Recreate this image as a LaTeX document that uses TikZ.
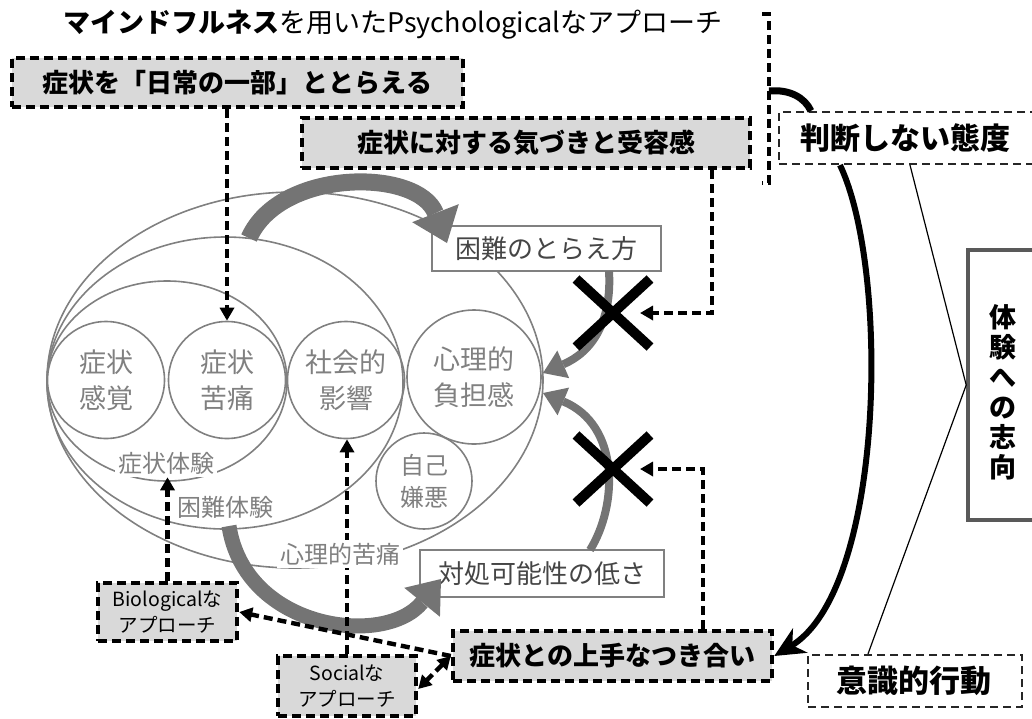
\documentclass[tikz,border=0pt]{standalone}
\usepackage{fontspec}
\setmainfont{Noto Sans CJK JP}
\usetikzlibrary{arrows.meta,shapes.misc,shapes.geometric}
\definecolor{boxgray}{HTML}{D9D9D9}
\definecolor{lgray}{HTML}{808080}
\definecolor{agray}{HTML}{747474}
\definecolor{tgray}{HTML}{454545}
\definecolor{mgray}{HTML}{595959}
\begin{document}
\begin{tikzpicture}[x=1pt,y=-1pt,
  gbox/.style={draw=black, fill=boxgray, line width=4.4pt, dash pattern=on 9pt off 5pt, inner sep=0pt, font=\fontsize{26}{30}\selectfont\bfseries},
  sbox/.style={gbox, font=\fontsize{19.5}{26}\selectfont, align=center},
  tbox/.style={draw=black!85, line width=2.2pt, dash pattern=on 8pt off 5pt, fill=white, inner sep=0pt},
  wbox/.style={draw=lgray, line width=1.8pt, fill=white, text=tgray, inner sep=0pt, font=\fontsize{26}{30}\selectfont},
  circ/.style={circle, draw=lgray, line width=1.6pt, text=lgray, align=center, inner sep=0pt, font=\fontsize{27}{36}\selectfont},
  lbl/.style={fill=white, text=lgray, inner sep=3pt, font=\fontsize{24}{28}\selectfont},
  ell/.style={ellipse, draw=lgray, line width=1.6pt, inner sep=0pt},
  darr/.style={line width=4.4pt, dash pattern=on 9pt off 5pt, -{Triangle[length=13pt,width=14pt]}},
  fat/.style={draw=agray, line cap=butt},
  xmark/.style={cross out, draw=black, line width=10pt, inner sep=0pt, minimum width=64pt, minimum height=58pt},
  btxt/.style={font=\fontsize{30}{34}\selectfont\bfseries},
]
\useasboundingbox (0,0) rectangle (1032,718);

% ellipses
\node[ell, minimum width=496pt, minimum height=376pt] (e3) at (295,380) {};
\node[ell, minimum width=356pt, minimum height=292pt] (e2) at (225,383) {};
\node[ell, minimum width=240pt, minimum height=200pt] (e1) at (167,381) {};

% circles
\node[circ, minimum size=117pt] (c1) at (106,380) {症状\\感覚};
\node[circ, minimum size=117pt] (c2) at (227,380) {症状\\苦痛};
\node[circ, minimum size=117pt] (c3) at (346,380) {社会的\\影響};
\node[circ, minimum size=134pt] (c4) at (474,377) {心理的\\負担感};
\node[circ, minimum size=96pt, font=\fontsize{24}{32}\selectfont] (c5) at (424,481) {自己\\嫌悪};

% white boxes
\node[wbox, minimum width=229pt, minimum height=45pt] (konnan) at (546.5,248.5) {困難のとらえ方};
\node[wbox, minimum width=244pt, minimum height=47pt] (taisho) at (542,573.5) {対処可能性の低さ};

% fat gray arrows
\coordinate (aS) at (249,238);
\coordinate (aE) at (447,243);
\draw[fat, line width=17pt, -{Triangle[length=32pt,width=50pt,line width=0pt]}] (aS) .. controls (280,168) and (418,168) .. (aE);
\coordinate (bS) at (229,526);
\coordinate (bE) at (441,579);
\draw[fat, line width=15pt, -{Triangle[length=30pt,width=46pt,line width=0pt]}] (bS) .. controls (245,630) and (385,648) .. (bE);
\coordinate (cS) at (609,271);
\coordinate (cE) at (543,373);
\draw[fat, line width=8pt, -{Triangle[length=22pt,width=30pt,line width=0pt]}] (cS) .. controls (612,322) and (592,352) .. (cE);
\coordinate (dS) at (590,550);
\coordinate (dE) at (543,393);
\draw[fat, line width=8pt, -{Triangle[length=22pt,width=30pt,line width=0pt]}] (dS) .. controls (618,505) and (620,425) .. (dE);

% X marks
\node[xmark] (x1) at (613,313) {};
\node[xmark] (x2) at (613,469) {};

% labels
\node[lbl] (l1) at (166,463) {症状体験};
\node[lbl] (l2) at (225,507) {困難体験};

% title and boxes
\node[font=\fontsize{27}{30}\selectfont] (title) at (393,25) {{\bfseries マインドフルネス}を用いたPsychologicalなアプローチ};
\node[gbox, minimum width=451pt, minimum height=49pt] (box1) at (237.5,82.5) {症状を「日常の一部」ととらえる};
\node[gbox, minimum width=448pt, minimum height=50pt] (box2) at (526,143) {症状に対する気づきと受容感};
\node[gbox, minimum width=319pt, minimum height=50pt] (deal) at (612.5,656) {症状との上手なつき合い};
\node[sbox, minimum width=139pt, minimum height=58pt] (bio) at (167.5,612) {Biologicalな\\アプローチ};
\node[sbox, minimum width=138pt, minimum height=60pt] (soc) at (347,686) {Socialな\\アプローチ};

\node[tbox, minimum width=266pt, minimum height=52pt] (judge) at (912,138) {};
\node[btxt] (judgeT) at (905,138) {判断しない態度};
\node[tbox, minimum width=214pt, minimum height=52pt] (conscious) at (915,681) {};
\node[btxt, font=\fontsize{31}{34}\selectfont\bfseries] (consciousT) at (914,681) {意識的行動};
\node[draw=mgray, line width=3.6pt, fill=white, minimum width=76pt, minimum height=270pt, inner sep=0pt] (mind) at (1006,385) {};
\node[align=center, font=\fontsize{27}{30}\selectfont\bfseries] (mindT) at (1003,392) {体\\験\\へ\\の\\志\\向};

% bracket
\coordinate (brT) at (762,14);
\coordinate (brB) at (762,183);
\coordinate (brM) at (769,91);
\draw[line width=4.4pt, dash pattern=on 9pt off 5pt] (brT) -- (769,14) -- (769,183) -- (brB);
\draw[line width=7pt] (brM) .. controls (790,89) and (805,98) .. ([xshift=33pt]judge.north west);

% dashed connectors
\coordinate (k1) at (712,313);
\coordinate (k2) at (703,469);
\draw[darr] (box1.south -| c2.north) -- (c2.north);
\draw[darr] (box2.south -| k1) -- (k1) -- ([xshift=27pt]x1.center);
\draw[darr] (deal.north -| k2) -- (k2) -- ([xshift=27pt]x2.center);
\draw[darr] (bio.north) -- (bio.north |- l1.south);
\draw[darr] (soc.north) -- (soc.north |- c3.south);
\draw[darr] (deal.west) -- (bio.east);
\draw[darr, {Triangle[length=13pt,width=14pt]}-{Triangle[length=13pt,width=14pt]}] (deal.west) -- ([yshift=-3pt]soc.east);

\node[lbl] (l3) at (340,554) {心理的苦痛};

% black curves on the right
\draw[line width=6pt, -{Stealth[length=30pt,width=28pt,inset=9pt]}] ([xshift=-72pt]judge.south) .. controls (890,270) and (885,590) .. (deal.east);
\draw[line width=1.2pt] ([xshift=-2pt]judge.south) -- (mind.west) -- ([xshift=-47pt]conscious.north);
\end{tikzpicture}
\end{document}
